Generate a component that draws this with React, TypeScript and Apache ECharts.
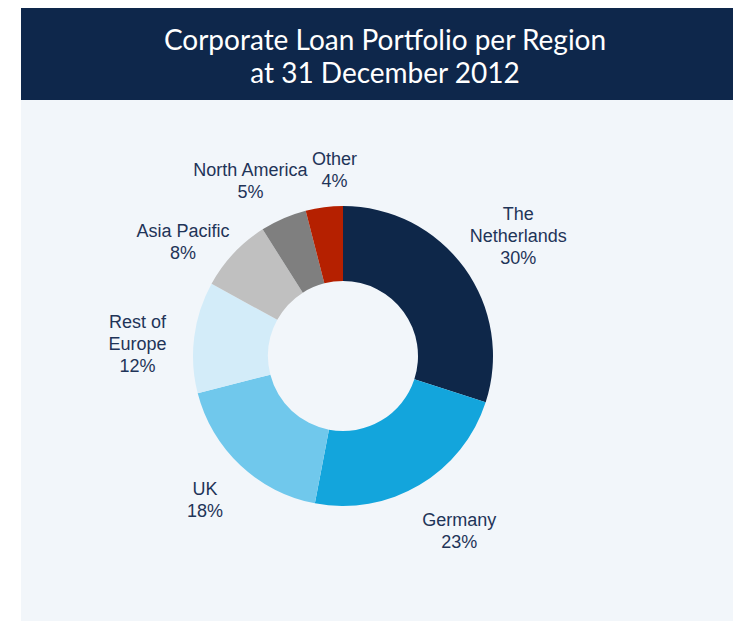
import React, { useEffect, useRef } from "react";
import * as echarts from "echarts";

const titleLines = ["Corporate Loan Portfolio per Region", "at 31 December 2012"];
const regions = ["The\nNetherlands", "Germany", "UK", "Rest of\nEurope", "Asia Pacific", "North America", "Other"];
const shares = [30, 23, 18, 12, 8, 5, 4];
const colors = ["#0e2749", "#13a5dc", "#70c8ec", "#d3ecf9", "#c0c0c0", "#7f7f7f", "#b52000"];
// small label nudges (px) relative to the library-computed label anchor
const labelNudgeX = [11, 13, 1, -4, -12, -12, 17];
const labelNudgeY = [-1, 0, -4, 13, 25, 11, 15];

export default function App() {
  const ref = useRef<HTMLDivElement>(null);
  useEffect(() => {
    const chart = echarts.init(ref.current!, null, { renderer: "svg" });
    const data = regions.map((name, i) => ({ name, value: shares[i], itemStyle: { color: colors[i] } }));
    chart.setOption({
      animation: false,
      backgroundColor: "#ffffff",
      graphic: [
        { type: "rect", z: 0, shape: { x: 21, y: 100, width: 712, height: 521 }, style: { fill: "#f2f6fa" }, silent: true },
        { type: "rect", z: 0, shape: { x: 21, y: 8, width: 712, height: 92 }, style: { fill: "#0e274b" }, silent: true },
      ],
      title: {
        text: titleLines.join("\n"),
        left: 380,
        top: 17,
        textAlign: "center",
        textStyle: { color: "#ffffff", fontSize: 28, lineHeight: 33, fontWeight: "normal", fontFamily: "Lato" },
        z: 10,
      },
      series: [
        {
          type: "pie",
          center: [343, 356],
          radius: [75, 150],
          startAngle: 90,
          clockwise: true,
          silent: true,
          label: { show: false },
          labelLine: { show: false },
          emphasis: { disabled: true },
          data,
          z: 5,
        },
        {
          type: "pie",
          center: [343, 356],
          radius: [150, 250],
          startAngle: 90,
          clockwise: true,
          silent: true,
          avoidLabelOverlap: false,
          itemStyle: { color: "rgba(0,0,0,0)" },
          emphasis: { disabled: true },
          label: {
            show: true,
            position: "inside",
            rotate: 0,
            overflow: "none",
            formatter: (p: any) => `${p.name}\n${p.value}%`,
            fontFamily: "Liberation Sans, Arial, sans-serif",
            fontSize: 18,
            lineHeight: 22,
            color: "#1f3458",
            align: "center",
          },
          labelLayout: (p: any) => ({
            dx: labelNudgeX[p.dataIndex],
            dy: labelNudgeY[p.dataIndex],
            hideOverlap: false,
          }),
          labelLine: { show: false },
          data: regions.map((name, i) => ({ name, value: shares[i] })),
          z: 6,
        },
      ],
    });
    return () => chart.dispose();
  }, []);
  return <div ref={ref} style={{ position: "fixed", left: 0, top: 0, width: 734, height: 621 }} />;
}
